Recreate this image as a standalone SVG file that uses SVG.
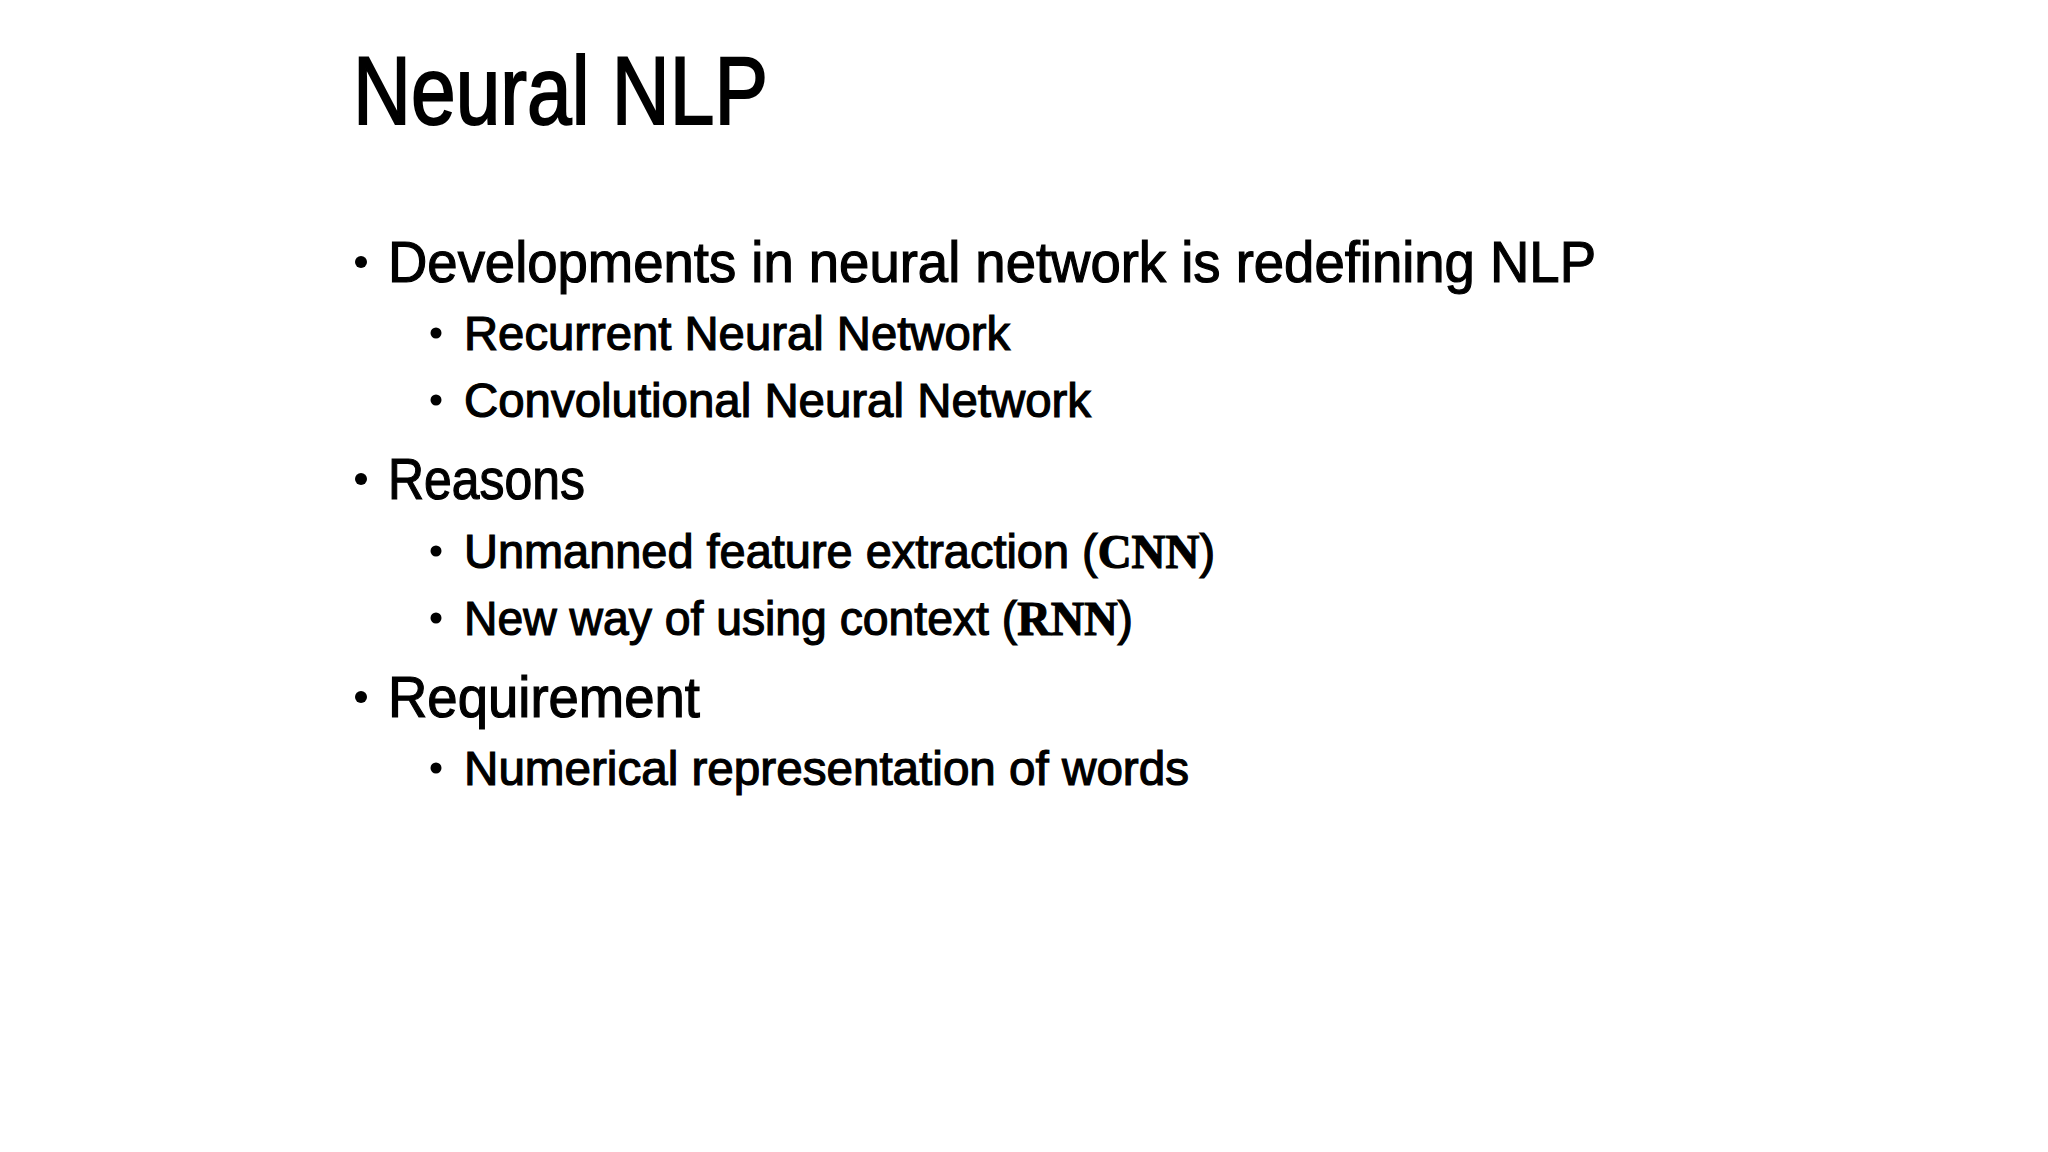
<svg xmlns="http://www.w3.org/2000/svg" width="2048" height="1152" viewBox="0 0 2048 1152">
<style>
text{font-family:"Liberation Sans Narrow","Liberation Sans",sans-serif;fill:#000;stroke:#000;stroke-width:1.2px}
.t{font-size:96px;stroke-width:2px}
.l1{font-size:58px}
.l2{font-size:48px}
.s{font-family:"Liberation Serif",serif;font-weight:bold}
</style>
<rect width="2048" height="1152" fill="#fff"/>
<g id="title"><text class="t" x="353" y="124" textLength="415" lengthAdjust="spacingAndGlyphs">Neural NLP</text></g>
<g id="bullets">
<circle cx="361" cy="262" r="6"/><text class="l1" x="388" y="282" textLength="1208" lengthAdjust="spacingAndGlyphs">Developments in neural network is redefining NLP</text>
<circle cx="436" cy="333" r="5.5"/><text class="l2" x="464" y="350" textLength="546" lengthAdjust="spacingAndGlyphs">Recurrent Neural Network</text>
<circle cx="436" cy="400" r="5.5"/><text class="l2" x="464" y="417" textLength="627" lengthAdjust="spacingAndGlyphs">Convolutional Neural Network</text>
<circle cx="361" cy="479" r="6"/><text class="l1" x="388" y="499" textLength="197" lengthAdjust="spacingAndGlyphs">Reasons</text>
<circle cx="436" cy="551" r="5.5"/><text class="l2" x="464" y="568" textLength="751" lengthAdjust="spacingAndGlyphs">Unmanned feature extraction (<tspan class="s">CNN</tspan>)</text>
<circle cx="436" cy="618" r="5.5"/><text class="l2" x="464" y="635" textLength="669" lengthAdjust="spacingAndGlyphs">New way of using context (<tspan class="s">RNN</tspan>)</text>
<circle cx="361" cy="697" r="6"/><text class="l1" x="388" y="717" textLength="312" lengthAdjust="spacingAndGlyphs">Requirement</text>
<circle cx="436" cy="768" r="5.5"/><text class="l2" x="464" y="785" textLength="725" lengthAdjust="spacingAndGlyphs">Numerical representation of words</text>
</g>
</svg>
